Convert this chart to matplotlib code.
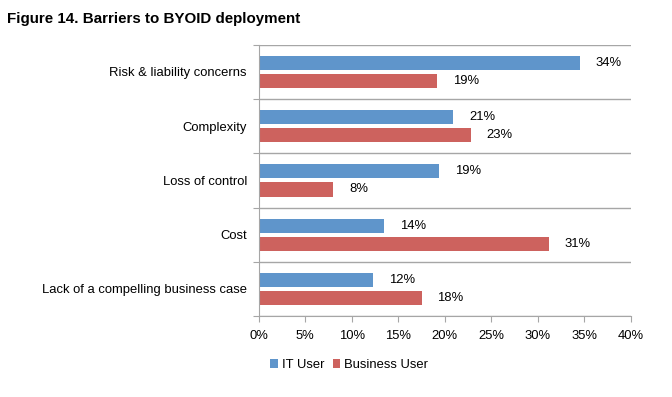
import numpy as np
import matplotlib
matplotlib.use('Agg')
import matplotlib.pyplot as plt

categories = ['Risk & liability concerns', 'Complexity', 'Loss of control', 'Cost',
              'Lack of a compelling business case']
it_user = [34.5, 20.9, 19.4, 13.5, 12.3]
business_user = [19.2, 22.8, 8.0, 31.2, 17.5]
it_labels = ['34%', '21%', '19%', '14%', '12%']
business_labels = ['19%', '23%', '8%', '31%', '18%']
xticks = [0, 5, 10, 15, 20, 25, 30, 35, 40]

blue = '#5F95CB'
red = '#CD625E'
grid = '#A6A6A6'
fs = 9.4

plt.rcParams['font.family'] = ['Liberation Sans', 'DejaVu Sans']

fig = plt.figure(figsize=(6.72, 3.97), dpi=100)
ax = fig.add_axes([0.385, 0.204, 0.554, 0.683])

y = np.arange(len(categories))
h = 0.26
off = 0.167
b1 = ax.barh(y - off, it_user, height=h, color=blue, label='IT User')
b2 = ax.barh(y + off, business_user, height=h, color=red, label='Business User')

for rect, lab in zip(b1, it_labels):
    ax.text(rect.get_width() + 1.7, rect.get_y() + rect.get_height() / 2, lab,
            va='center', ha='left', fontsize=fs)
for rect, lab in zip(b2, business_labels):
    ax.text(rect.get_width() + 1.7, rect.get_y() + rect.get_height() / 2, lab,
            va='center', ha='left', fontsize=fs)

ax.set_xlim(0, 40)
ax.set_ylim(len(categories) - 0.5, -0.5)
ax.set_xticks(xticks)
ax.set_xticklabels([f'{t}%' for t in xticks], fontsize=fs)

# category labels at centres, tick marks at boundaries
ax.set_yticks(np.arange(-0.5, len(categories) + 0.5, 1.0))
ax.set_yticklabels([])
ax.set_yticks(y, minor=True)
ax.set_yticklabels(categories, minor=True, fontsize=fs)
ax.tick_params(axis='y', which='minor', length=0, pad=8.5)
ax.tick_params(axis='y', which='major', length=4, color=grid, direction='out')
ax.tick_params(axis='x', length=4, color=grid, direction='out', pad=6)
ax.yaxis.grid(True, which='major', color=grid, linewidth=1)
ax.set_axisbelow(True)

for s in ['top', 'right']:
    ax.spines[s].set_visible(False)
for s in ['left', 'bottom']:
    ax.spines[s].set_color(grid)

fig.text(0.011, 0.953, 'Figure 14. Barriers to BYOID deployment', fontsize=10.9,
         fontweight='bold', va='center', ha='left')

fig.legend(handles=[b1, b2], loc='center left', bbox_to_anchor=(0.385, 0.08),
           ncol=2, frameon=False, fontsize=fs, handlelength=0.6, handleheight=0.6,
           handletextpad=0.3, columnspacing=0.6)

fig.savefig('out.png', dpi=100)
